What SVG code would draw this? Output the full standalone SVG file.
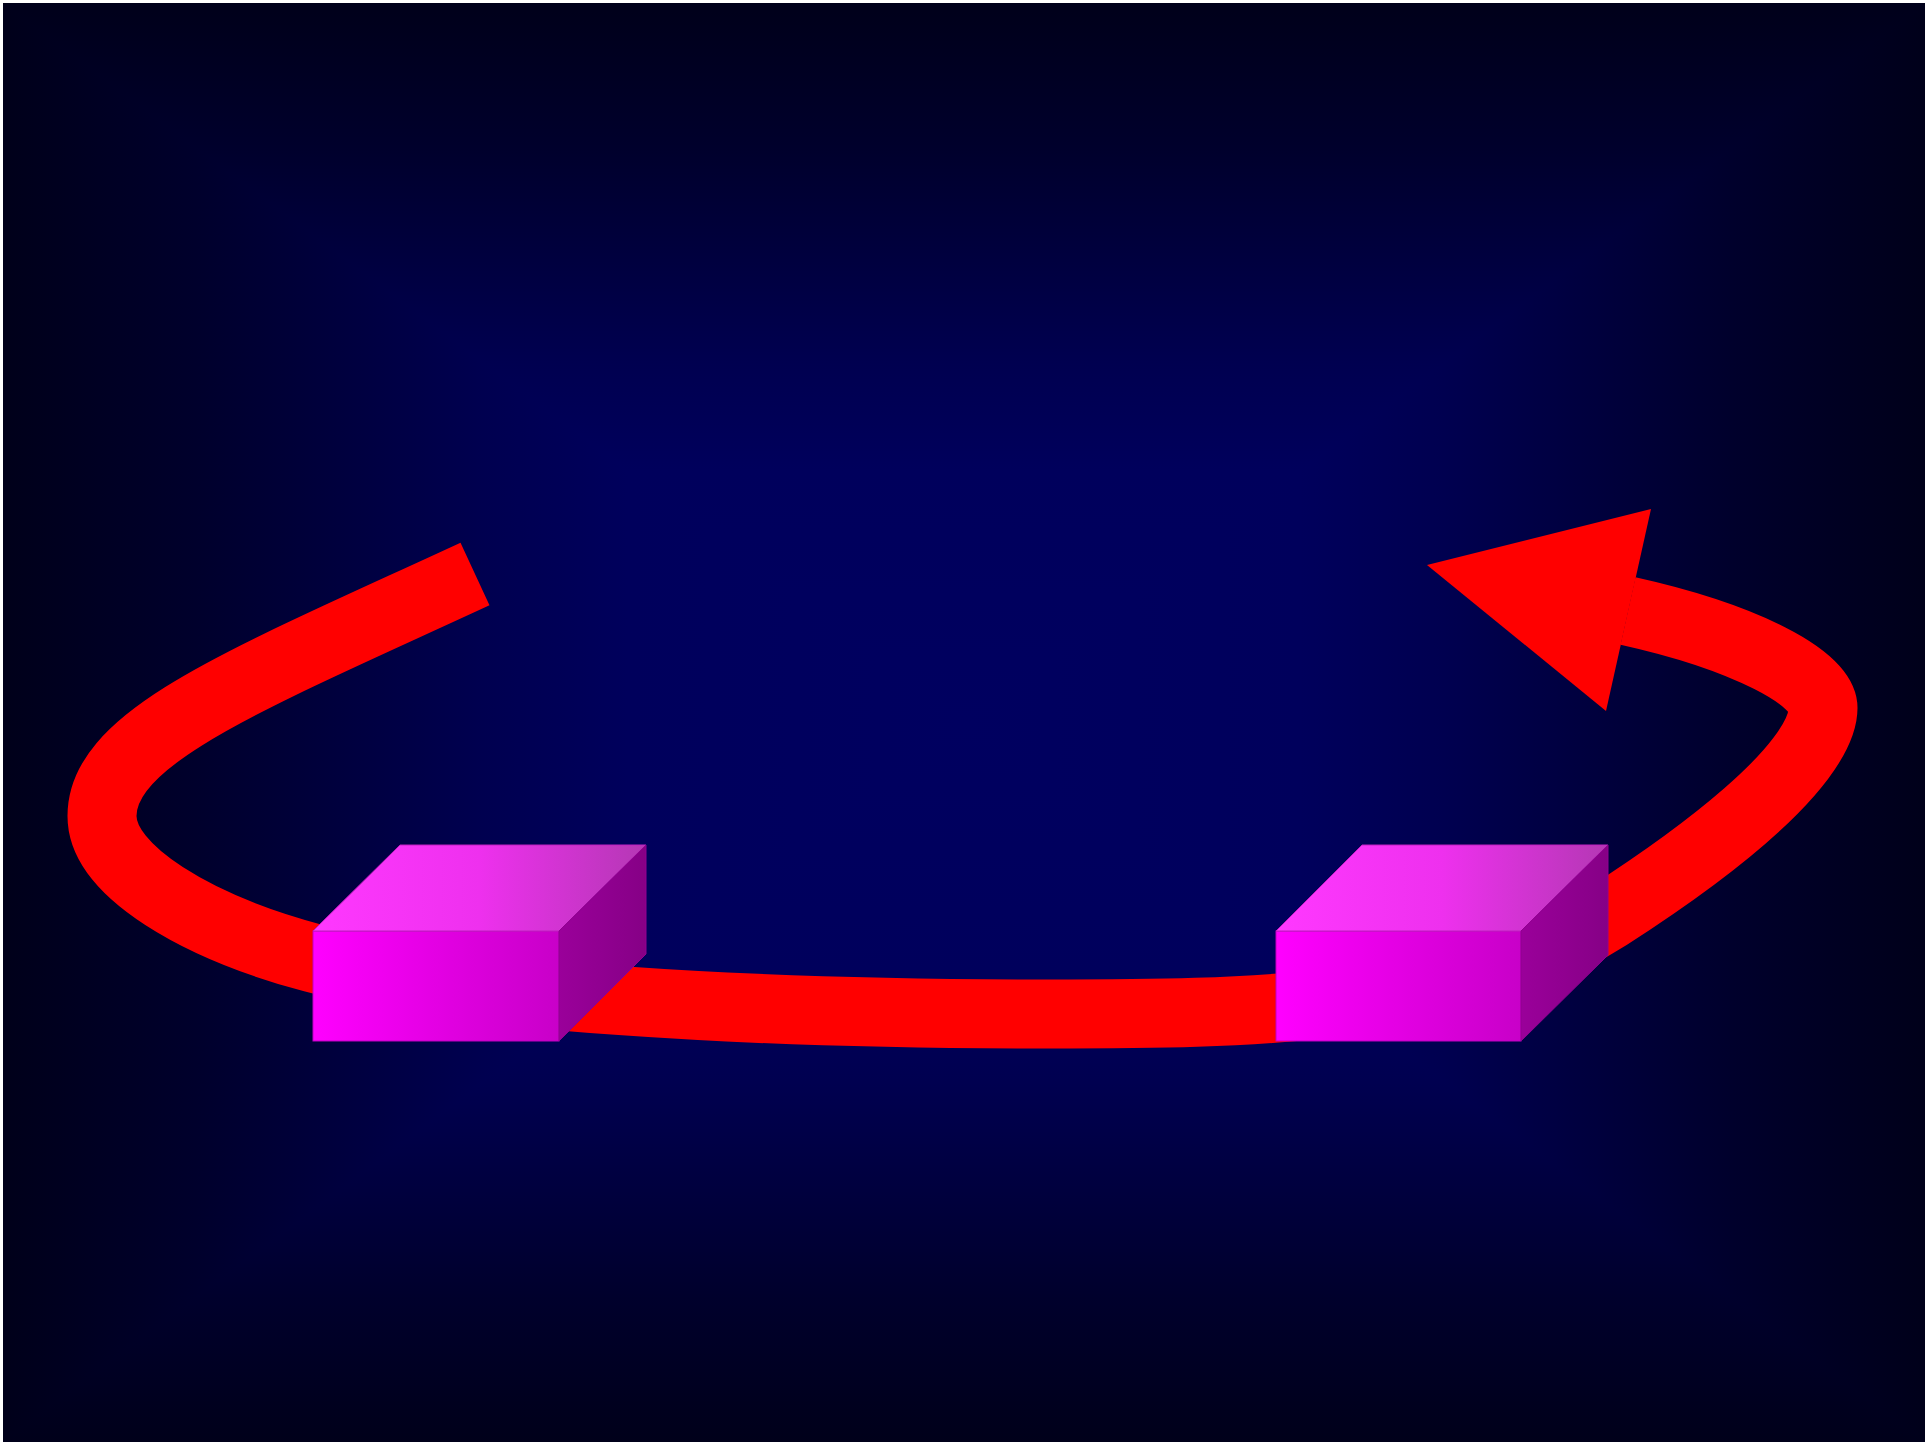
<svg xmlns="http://www.w3.org/2000/svg" width="1925" height="1442" viewBox="0 0 1925 1442">
  <style>
    .bg { shape-rendering: crispEdges; }
    .front { fill: url(#gFront); stroke: #c000c0; stroke-width: 1; }
    .top { fill: url(#gTop); stroke: #c020c0; stroke-width: 1; }
    .side { fill: url(#gSide); stroke: #900090; stroke-width: 1; }
    .curve { fill: none; stroke: #ff0000; stroke-width: 69; stroke-linecap: butt; stroke-linejoin: round; }
    .head { fill: #ff0000; }
  </style>
  <defs>
    <linearGradient id="bgStops">
      <stop offset="0" stop-color="#000060"/>
      <stop offset="0.35" stop-color="#00005c"/>
      <stop offset="0.5" stop-color="#000050"/>
      <stop offset="0.65" stop-color="#00003e"/>
      <stop offset="0.8" stop-color="#00002c"/>
      <stop offset="1" stop-color="#00001a"/>
    </linearGradient>
    <linearGradient id="gBgTop" href="#bgStops" gradientUnits="userSpaceOnUse" x1="0" y1="722.5" x2="0" y2="3"/>
    <linearGradient id="gBgBottom" href="#bgStops" gradientUnits="userSpaceOnUse" x1="0" y1="722.5" x2="0" y2="1442"/>
    <linearGradient id="gBgLeft" href="#bgStops" gradientUnits="userSpaceOnUse" x1="964" y1="0" x2="3" y2="0"/>
    <linearGradient id="gBgRight" href="#bgStops" gradientUnits="userSpaceOnUse" x1="964" y1="0" x2="1925" y2="0"/>
    <linearGradient id="gFront" x1="0" y1="0" x2="1" y2="0">
      <stop offset="0" stop-color="#ff00ff"/>
      <stop offset="1" stop-color="#c800c8"/>
    </linearGradient>
    <linearGradient id="gTop" x1="0" y1="0" x2="1" y2="0">
      <stop offset="0" stop-color="#ff38ff"/>
      <stop offset="0.5" stop-color="#ee30ee"/>
      <stop offset="1" stop-color="#b438b4"/>
    </linearGradient>
    <linearGradient id="gSide" x1="0" y1="0" x2="1" y2="0">
      <stop offset="0" stop-color="#9a009a"/>
      <stop offset="1" stop-color="#860086"/>
    </linearGradient>
  </defs>

  <g id="background">
    <rect x="3" y="3" width="1922" height="1439" fill="#000030"/>
    <polygon class="bg" points="3,3 1925,3 964,722.5" fill="url(#gBgTop)"/>
    <polygon class="bg" points="3,1442 1925,1442 964,722.5" fill="url(#gBgBottom)"/>
    <polygon class="bg" points="3,3 3,1442 964,722.5" fill="url(#gBgLeft)"/>
    <polygon class="bg" points="1925,3 1925,1442 964,722.5" fill="url(#gBgRight)"/>
  </g>

  <g id="connectors">
    <path class="curve" d="M 475,574 C 248,679 102,736 102,816 C 102,871 197,927 313,958 C 458,997 745,1014 1045,1014 C 1245,1014 1457,1013 1608,916 C 1692,862 1823,768 1823,708 C 1823,678 1745,637 1628,611"/>
    <polygon class="head" points="1427,565 1651,509 1606,711"/>
  </g>

  <g id="box-left">
    <rect class="front" x="313" y="931" width="246" height="110"/>
    <polygon class="top" points="313,931 400,845 646,845 559,931"/>
    <polygon class="side" points="559,931 646,845 646,954 559,1041"/>
  </g>

  <g id="box-right">
    <rect class="front" x="1276" y="931" width="245" height="110"/>
    <polygon class="top" points="1276,931 1362,845 1608,845 1521,931"/>
    <polygon class="side" points="1521,931 1608,845 1608,955 1521,1041"/>
  </g>
</svg>
